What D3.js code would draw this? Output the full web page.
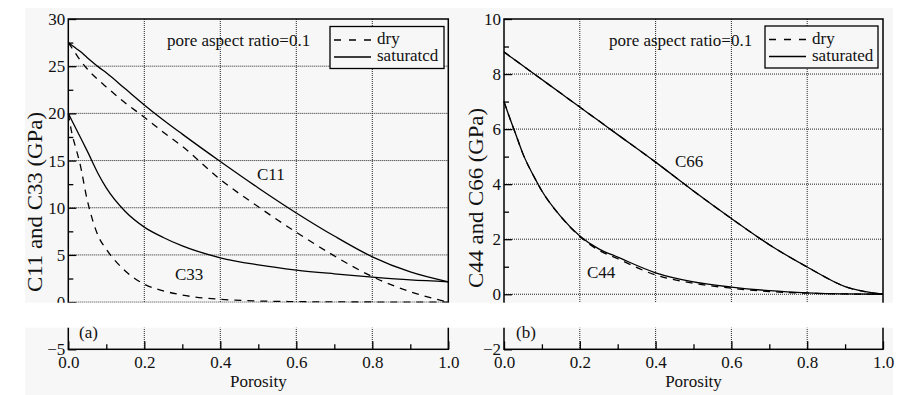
<!DOCTYPE html>
<html>
<head>
<meta charset="utf-8">
<script src="https://cdn.jsdelivr.net/npm/d3@7"></script>
<style>
  body { margin: 0; background: #fff; }
  svg text { font-family: "Liberation Serif", "Times New Roman", serif; fill: #111; }
</style>
</head>
<body>
<div id="main"><svg width="917" height="395"></svg></div>
<script>
// Porosity grid shared by every curve
var porosity = [0, 0.01, 0.02, 0.03, 0.05, 0.08, 0.1, 0.15, 0.2, 0.25, 0.3, 0.4, 0.5, 0.6, 0.7, 0.8, 0.9, 1.0];

// Panel (a): C11 and C33 (GPa)
var c11Sat = [27.5, 27.2, 26.9, 26.6, 25.9, 24.9, 24.3, 22.6, 20.9, 19.3, 17.8, 14.9, 12.1, 9.45, 7.0, 4.8, 3.2, 2.15];
var c11Dry = [27.5, 26.9, 26.3, 25.7, 24.7, 23.5, 22.8, 21.1, 19.6, 18.0, 16.5, 13.0, 10.1, 7.4, 4.9, 2.7, 1.1, 0];
var c33Sat = [20, 19.2, 18.4, 17.6, 16.0, 13.5, 12.1, 9.6, 7.95, 6.85, 5.95, 4.7, 3.95, 3.4, 3.0, 2.65, 2.35, 2.15];
var c33Dry = [20, 17.8, 16.3, 14.8, 10.8, 6.9, 5.6, 3.3, 1.9, 1.2, 0.75, 0.3, 0.12, 0.05, 0.02, 0.01, 0, 0];

// Panel (b): C44 and C66 (GPa)
var c66Sat = [8.8, 8.7, 8.6, 8.5, 8.3, 8.0, 7.8, 7.3, 6.8, 6.3, 5.8, 4.8, 3.75, 2.75, 1.8, 0.99, 0.28, 0];
var c66Dry = [8.8, 8.7, 8.6, 8.5, 8.3, 8.0, 7.8, 7.3, 6.8, 6.3, 5.8, 4.8, 3.75, 2.75, 1.8, 0.99, 0.28, 0];
var c44Sat = [7.0, 6.6, 6.22, 5.85, 5.1, 4.25, 3.75, 2.82, 2.12, 1.65, 1.35, 0.78, 0.45, 0.26, 0.13, 0.05, 0.01, 0];
var c44Dry = [7.0, 6.6, 6.22, 5.85, 5.1, 4.25, 3.75, 2.82, 2.1, 1.6, 1.29, 0.7, 0.4, 0.22, 0.1, 0.04, 0.01, 0];

var xTicks = [0, 0.2, 0.4, 0.6, 0.8, 1.0];
var xMinor = [0.1, 0.3, 0.5, 0.7, 0.9];

var svg = d3.select("#main").select("svg");

// light grey paper of the scanned figure
svg.append("rect")
    .attr("x", 25).attr("y", 8)
    .attr("width", 868).attr("height", 387)
    .attr("fill", "#f7f7f7");

var panels = [
  {
    left: 68.3, right: 448.3, yDomain: [-5, 30],
    yTicks: [-5, 0, 5, 10, 15, 20, 25, 30],
    yMinor: [-2.5, 2.5, 7.5, 12.5, 17.5, 22.5, 27.5],
    yGrid: [0, 5, 10, 15, 20, 25],
    yTitle: "C11 and C33 (GPa)", yTitleX: 35, yTitleY: 202,
    series: [
      {values: c11Dry, dashed: true}, {values: c11Sat, dashed: false},
      {values: c33Dry, dashed: true}, {values: c33Sat, dashed: false}
    ],
    labels: [{text: "C11", x: 257, y: 180}, {text: "C33", x: 175, y: 280}],
    note: {x: 167, y: 46},
    legend: {x: 330, y: 26.5, w: 114, h: 42, sat: "saturatcd"},
    tag: "(a)", tagX: 79
  },
  {
    left: 504, right: 883, yDomain: [-2, 10],
    yTicks: [-2, 0, 2, 4, 6, 8, 10],
    yMinor: [-1, 1, 3, 5, 7, 9],
    yGrid: [0, 2, 4, 6, 8],
    yTitle: "C44 and C66 (GPa)", yTitleX: 476, yTitleY: 198,
    series: [
      {values: c66Dry, dashed: true}, {values: c66Sat, dashed: false},
      {values: c44Dry, dashed: true}, {values: c44Sat, dashed: false}
    ],
    labels: [{text: "C66", x: 675, y: 167}, {text: "C44", x: 587, y: 278}],
    note: {x: 609, y: 46},
    legend: {x: 765, y: 26, w: 113, h: 42, sat: "saturated"},
    tag: "(b)", tagX: 516
  }
];

var plotTop = 19, plotBottom = 349.3;

panels.forEach(function(p) {
    var g = svg.append("g");

    var xScale = d3.scaleLinear().domain([0, 1]).range([p.left, p.right]);
    var yScale = d3.scaleLinear().domain(p.yDomain).range([plotBottom, plotTop]);

    // dotted grid
    g.selectAll(".vgrid").data(xTicks.slice(1, -1)).enter().append("line")
        .attr("x1", function(d) { return xScale(d); })
        .attr("x2", function(d) { return xScale(d); })
        .attr("y1", plotTop).attr("y2", plotBottom)
        .attr("stroke", "#222").attr("stroke-width", 1)
        .attr("stroke-dasharray", "1,1");
    g.selectAll(".hgrid").data(p.yGrid).enter().append("line")
        .attr("x1", p.left).attr("x2", p.right)
        .attr("y1", function(d) { return yScale(d); })
        .attr("y2", function(d) { return yScale(d); })
        .attr("stroke", "#222").attr("stroke-width", 1)
        .attr("stroke-dasharray", "1,1");

    // curves
    p.series.forEach(function(s) {
        var line = d3.line()
            .x(function(d, i) { return xScale(porosity[i]); })
            .y(function(d) { return yScale(d); })
            .curve(d3.curveMonotoneX);
        g.append("path")
            .datum(s.values)
            .attr("d", line)
            .attr("fill", "none")
            .attr("stroke", "#000")
            .attr("stroke-width", 1.3)
            .attr("stroke-dasharray", s.dashed ? "7,6" : null);
    });

    // axes with inward ticks
    var yAxis = d3.axisLeft(yScale).tickValues(p.yTicks).tickSize(-8).tickPadding(3)
        .tickFormat(d3.format("d"));
    var yAxisG = g.append("g").attr("transform", "translate(" + p.left + ",0)").call(yAxis);
    var yMinorG = g.append("g").attr("transform", "translate(" + p.left + ",0)")
        .call(d3.axisLeft(yScale).tickValues(p.yMinor).tickSize(-5).tickFormat(""));

    var xAxis = d3.axisBottom(xScale).tickValues(xTicks).tickSize(-8).tickPadding(7)
        .tickFormat(d3.format(".1f"));
    var xAxisG = g.append("g").attr("transform", "translate(0," + plotBottom + ")").call(xAxis);
    var xMinorG = g.append("g").attr("transform", "translate(0," + plotBottom + ")")
        .call(d3.axisBottom(xScale).tickValues(xMinor).tickSize(-5).tickFormat(""));

    [yAxisG, yMinorG, xAxisG, xMinorG].forEach(function(a) {
        a.select(".domain").remove();
        a.selectAll("line").attr("stroke", "#000").attr("stroke-width", 1.3);
        a.selectAll("text").attr("font-size", 17)
            .attr("font-family", "Liberation Serif, serif").attr("fill", "#111");
    });

    // frame
    g.append("rect")
        .attr("x", p.left).attr("y", plotTop)
        .attr("width", p.right - p.left).attr("height", plotBottom - plotTop)
        .attr("fill", "none").attr("stroke", "#000").attr("stroke-width", 1.5);

    // curve labels
    p.labels.forEach(function(l) {
        g.append("text").attr("x", l.x).attr("y", l.y)
            .attr("font-size", 17).text(l.text);
    });

    g.append("text").attr("x", p.note.x).attr("y", p.note.y)
        .attr("font-size", 17).text("pore aspect ratio=0.1");

    // legend
    var lg = g.append("g").attr("transform", "translate(" + p.legend.x + "," + p.legend.y + ")");
    lg.append("rect").attr("width", p.legend.w).attr("height", p.legend.h)
        .attr("fill", "#f7f7f7").attr("stroke", "#000").attr("stroke-width", 1.3);
    [{label: "dry", dashed: true, y: 13.5}, {label: p.legend.sat, dashed: false, y: 30.5}]
      .forEach(function(e) {
        lg.append("line").attr("x1", 4).attr("x2", 41).attr("y1", e.y).attr("y2", e.y)
            .attr("stroke", "#000").attr("stroke-width", 1.3)
            .attr("stroke-dasharray", e.dashed ? "7,8" : null);
        lg.append("text").attr("x", 47).attr("y", e.y + 4)
            .attr("font-size", 17).text(e.label);
    });

    // axis titles
    g.append("text")
        .attr("transform", "translate(" + p.yTitleX + "," + p.yTitleY + ") rotate(-90)")
        .attr("text-anchor", "middle").attr("dy", "0.35em")
        .attr("font-size", 20)
        .attr("textLength", 180).attr("lengthAdjust", "spacingAndGlyphs")
        .text(p.yTitle);
    g.append("text")
        .attr("x", (p.left + p.right) / 2).attr("y", 387)
        .attr("text-anchor", "middle")
        .attr("font-size", 17).text("Porosity");
});

// white band of the broken axis
svg.append("rect")
    .attr("x", 0).attr("y", 302.7)
    .attr("width", 917).attr("height", 25)
    .attr("fill", "#fff");

panels.forEach(function(p) {
    svg.append("text").attr("x", p.tagX).attr("y", 338)
        .attr("font-size", 17).text(p.tag);
});
</script>
</body>
</html>
